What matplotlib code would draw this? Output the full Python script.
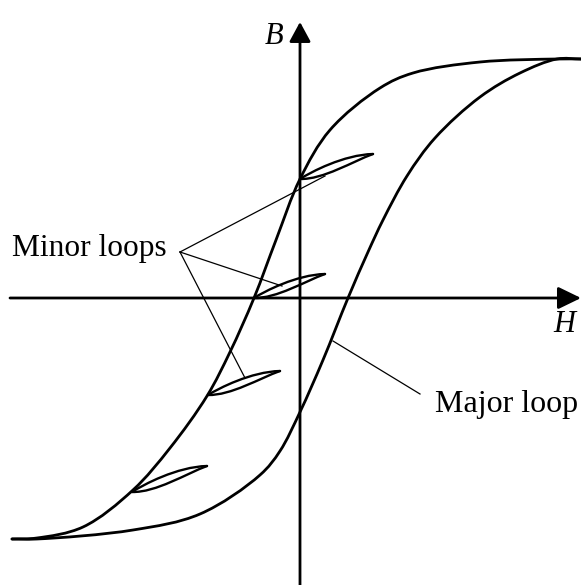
import numpy as np
import matplotlib
matplotlib.use('Agg')
from matplotlib import pyplot as plt
from matplotlib.path import Path
from matplotlib.patches import PathPatch

plt.rcParams['font.family'] = ['Liberation Serif', 'DejaVu Serif']

# major loop, descending branch (H, B)
upper_H = [-288, -263, -217, -167, -130, -93, -70, -46, -24, 0, 30, 80, 113, 180, 257, 281]
upper_B = [-241, -240, -229, -192, -150, -98, -54, 0, 58, 119, 168, 210, 225, 236, 239, 239]

# major loop, ascending branch (H, B)
lower_H = [-288, -263, -167, -100, -40, -20, 0, 23, 48, 68, 83, 107, 135, 180, 220, 257, 281]
lower_B = [-241, -241, -232, -216, -177, -153, -114, -62, 0, 46, 78, 122, 160, 201, 225, 239, 239]

# minor loops: start point on the branch and tip
minor_H0 = [0, -46, -92, -168]
minor_B0 = [119, 0, -97, -194]
minor_H1 = [73, 25, -20, -93]
minor_B1 = [144, 24, -73, -168]

# leader lines
minor_label = 'Minor loops'
minor_apex = (-120, 46)
minor_tips_H = [25, -18, -55]
minor_tips_B = [122, 12, -80]
major_label = 'Major loop'
major_leader_H = [33, 120]
major_leader_B = [-43, -96]


def smooth_path(xs, ys, alpha=0.5):
    # Catmull-Rom through the points (centripetal knots), as cubic Beziers
    pts = np.column_stack([xs, ys]).astype(float)
    n = len(pts)
    ext = np.vstack([2 * pts[0] - pts[1], pts, 2 * pts[-1] - pts[-2]])
    d = np.linalg.norm(np.diff(ext, axis=0), axis=1) ** alpha
    t = np.concatenate([[0], np.cumsum(d)])
    verts = [pts[0]]
    codes = [Path.MOVETO]
    for i in range(1, n):
        p0, p1, p2, p3 = ext[i - 1], ext[i], ext[i + 1], ext[i + 2]
        t0, t1, t2, t3 = t[i - 1], t[i], t[i + 1], t[i + 2]
        m1 = (p1 - p0) / (t1 - t0) - (p2 - p0) / (t2 - t0) + (p2 - p1) / (t2 - t1)
        m2 = (p2 - p1) / (t2 - t1) - (p3 - p1) / (t3 - t1) + (p3 - p2) / (t3 - t2)
        h = t2 - t1
        verts += [p1 + m1 * h / 3, p2 - m2 * h / 3, p2]
        codes += [Path.CURVE4] * 3
    return Path(verts, codes)


def lens(h0, b0, h1, b1, ctrl):
    dh, db = h1 - h0, b1 - b0
    verts = [(h0, b0)] + [(h0 + u * dh, b0 + v * db) for u, v in ctrl] + [(h1, b1)]
    return Path(verts, [Path.MOVETO] + [Path.CURVE4] * 3)


fig = plt.figure(figsize=(5.81, 5.85), dpi=100)
ax = fig.add_axes([0, 0, 1, 1])
ax.set_xlim(-300, 281)
ax.set_ylim(-287, 298)
ax.axis('off')

# axes with arrows
ax.annotate('', xy=(281, 0), xytext=(-290, 0),
            arrowprops=dict(arrowstyle='-|>,head_length=14,head_width=6.8',
                            mutation_scale=1, lw=2.0, color='k',
                            shrinkA=0, shrinkB=0))
ax.annotate('', xy=(0, 276), xytext=(0, -287),
            arrowprops=dict(arrowstyle='-|>,head_length=12,head_width=6.5',
                            mutation_scale=1, lw=2.0, color='k',
                            shrinkA=0, shrinkB=0))
ax.text(-26, 254, 'B', fontsize=22, style='italic', ha='center', va='baseline')
ax.text(264, -34, 'H', fontsize=22, style='italic', ha='center', va='baseline')

# major loop
for hs, bs in [(upper_H, upper_B), (lower_H, lower_B)]:
    ax.add_patch(PathPatch(smooth_path(hs, bs), fill=False, lw=2.0,
                           ec='k', capstyle='round', joinstyle='round'))

# minor loops
for h0, b0, h1, b1 in zip(minor_H0, minor_B0, minor_H1, minor_B1):
    for ctrl in ([(0.32, -0.02), (0.72, 0.7)], [(0.15, 0.28), (0.6, 0.97)]):
        ax.add_patch(PathPatch(lens(h0, b0, h1, b1, ctrl), fill=False,
                               lw=1.7, ec='k', capstyle='round'))

# labels and leaders
for th, tb in zip(minor_tips_H, minor_tips_B):
    ax.plot([minor_apex[0], th], [minor_apex[1], tb], color='k', lw=0.9)
ax.text(-133, 42, minor_label, fontsize=22.6, ha='right', va='baseline')
ax.plot(major_leader_H, major_leader_B, color='k', lw=0.9)
ax.text(135, -114, major_label, fontsize=23, ha='left', va='baseline')

fig.savefig('out.png', dpi=100)
